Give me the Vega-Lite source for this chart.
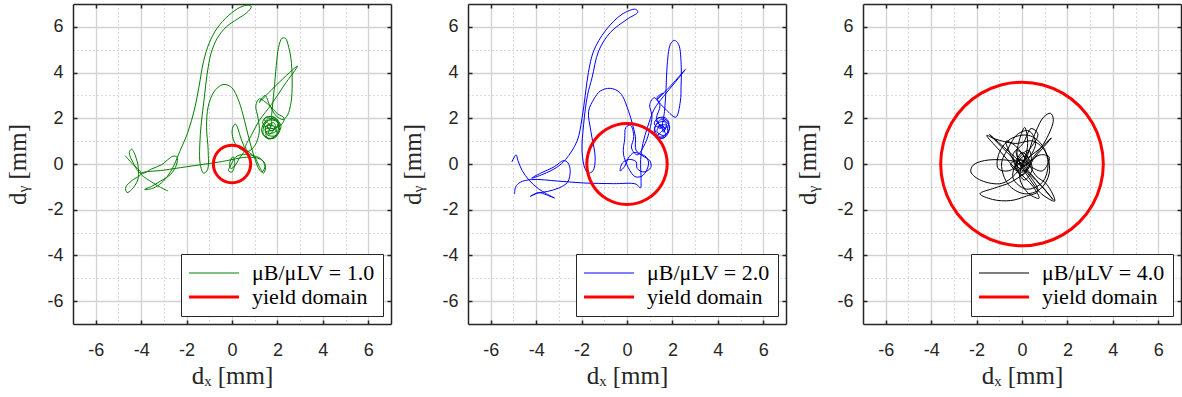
{
  "$schema": "https://vega.github.io/schema/vega-lite/v6.json",
  "padding": {"left": 5, "top": 3, "right": 0, "bottom": 0},
  "bounds": "flush",
  "spacing": 77,
  "background": "white",
  "datasets": {
    "t1": [
      {"x":-4.70,"y":0.36},{"x":-4.40,"y":0.02},{"x":-4.00,"y":-0.42},{"x":-4.40,"y":-0.72},{"x":-4.68,"y":-1.02},{"x":-4.62,"y":-1.25},{"x":-4.42,"y":-1.12},{"x":-4.15,"y":-0.70},{"x":-4.12,"y":-0.20},{"x":-4.25,"y":0.35},{"x":-4.42,"y":0.65},{"x":-4.52,"y":0.50},{"x":-4.35,"y":0.05},{"x":-4.00,"y":-0.42},{"x":-3.55,"y":-0.22},{"x":-3.10,"y":-0.03},{"x":-2.60,"y":0.34},{"x":-2.42,"y":0.30},{"x":-2.45,"y":-0.05},{"x":-2.70,"y":-0.45},{"x":-3.15,"y":-0.75},{"x":-3.55,"y":-0.98},{"x":-3.85,"y":-1.12},{"x":-3.55,"y":-1.08},{"x":-3.20,"y":-0.90},{"x":-2.85,"y":-0.55},{"x":-2.55,"y":-0.05},{"x":-2.30,"y":0.55},{"x":-1.94,"y":1.40},{"x":-1.65,"y":2.40},{"x":-1.45,"y":3.40},{"x":-1.25,"y":4.50},{"x":-1.00,"y":5.30},{"x":-0.65,"y":5.95},{"x":-0.15,"y":6.50},{"x":0.35,"y":6.85},{"x":0.72,"y":6.95},{"x":0.85,"y":6.88},{"x":0.65,"y":6.62},{"x":0.25,"y":6.35},{"x":-0.25,"y":6.00},{"x":-0.65,"y":5.50},{"x":-0.92,"y":4.85},{"x":-1.10,"y":3.90},{"x":-1.22,"y":2.90},{"x":-1.35,"y":1.80},{"x":-1.42,"y":0.80},{"x":-1.40,"y":0.00},{"x":-1.25,"y":-0.40},{"x":-1.08,"y":-0.25},{"x":-1.05,"y":0.60},{"x":-1.12,"y":1.60},{"x":-1.05,"y":2.50},{"x":-0.80,"y":3.15},{"x":-0.40,"y":3.48},{"x":-0.02,"y":3.35},{"x":0.30,"y":2.75},{"x":0.55,"y":1.90},{"x":0.75,"y":1.10},{"x":0.95,"y":0.40},{"x":1.15,"y":-0.15},{"x":1.32,"y":-0.35},{"x":1.45,"y":-0.10},{"x":1.30,"y":0.20},{"x":1.00,"y":0.35},{"x":0.50,"y":0.42},{"x":0.15,"y":0.30},{"x":0.00,"y":0.05},{"x":-0.15,"y":-0.30},{"x":0.00,"y":-0.35},{"x":0.12,"y":0.02},{"x":0.05,"y":0.32},{"x":-0.10,"y":0.05},{"x":-0.05,"y":-0.20},{"x":0.15,"y":-0.05},{"x":0.30,"y":0.22},
      {"x":0.55,"y":0.60},{"x":0.40,"y":1.10},{"x":0.15,"y":1.75},{"x":0.02,"y":1.55},{"x":0.05,"y":1.10},{"x":0.30,"y":0.70},{"x":0.70,"y":0.55},{"x":1.00,"y":0.80},{"x":1.20,"y":1.40},{"x":1.15,"y":2.00},{"x":1.05,"y":2.55},{"x":1.20,"y":2.85},{"x":1.60,"y":2.60},{"x":2.00,"y":2.20},{"x":2.30,"y":2.00},{"x":2.15,"y":1.70},{"x":1.70,"y":1.55},
      {"x":1.35,"y":1.80},{"x":1.50,"y":2.05},{"x":1.90,"y":2.00},{"x":2.10,"y":1.60},{"x":1.90,"y":1.15},{"x":1.50,"y":1.15},{"x":1.30,"y":1.50},{"x":1.55,"y":1.90},{"x":1.98,"y":1.85},{"x":2.02,"y":1.40},{"x":1.70,"y":1.12},{"x":1.38,"y":1.30},{"x":1.45,"y":1.75},{"x":1.80,"y":1.98},{"x":2.15,"y":1.70},{"x":1.95,"y":1.25},{"x":1.55,"y":1.28},{"x":1.48,"y":1.62},{"x":1.85,"y":1.80},{"x":1.92,"y":1.42},{"x":1.60,"y":1.35},{"x":1.70,"y":1.65},{"x":1.42,"y":1.95},{"x":1.78,"y":2.08},{"x":2.05,"y":1.85},{"x":1.85,"y":1.50},{"x":1.50,"y":1.40},{"x":1.58,"y":1.10},{"x":1.98,"y":1.28},{"x":1.78,"y":1.70},{"x":1.35,"y":1.62},{"x":1.62,"y":2.00},{"x":2.08,"y":1.78},{"x":1.70,"y":1.45},{"x":1.55,"y":1.70},{"x":1.88,"y":1.62},{"x":1.65,"y":1.30},{"x":1.45,"y":1.52},{"x":1.70,"y":1.60},
      {"x":1.75,"y":2.20},{"x":1.85,"y":3.20},{"x":1.95,"y":4.30},{"x":2.05,"y":5.10},{"x":2.20,"y":5.50},{"x":2.35,"y":5.50},{"x":2.50,"y":5.10},{"x":2.62,"y":4.40},{"x":2.65,"y":3.50},{"x":2.60,"y":2.70},{"x":2.45,"y":2.15},{"x":2.25,"y":1.95},{"x":1.95,"y":2.10},{"x":1.65,"y":2.60},{"x":1.45,"y":3.00},{"x":1.20,"y":2.70},{"x":2.00,"y":3.50},{"x":2.88,"y":4.28},{"x":2.30,"y":3.45},{"x":1.73,"y":2.60},{"x":1.20,"y":1.90},{"x":0.85,"y":1.25},{"x":0.60,"y":0.70},{"x":1.00,"y":0.30},{"x":1.20,"y":-0.10},{"x":1.38,"y":-0.40},{"x":1.48,"y":-0.15},{"x":1.35,"y":0.15},{"x":0.80,"y":0.30},
      {"x":-0.60,"y":0.08},{"x":-2.00,"y":-0.12},{"x":-3.00,"y":-0.27},{"x":-4.00,"y":-0.42},{"x":-3.55,"y":-0.78},{"x":-3.15,"y":-1.02},{"x":-2.82,"y":-1.18}
    ],
    "t2": [
      {"x":-5.07,"y":0.09},{"x":-4.95,"y":0.32},{"x":-4.88,"y":0.40},{"x":-4.80,"y":0.15},{"x":-4.62,"y":-0.28},{"x":-4.30,"y":-0.72},{"x":-3.90,"y":-1.08},{"x":-3.55,"y":-1.30},{"x":-3.19,"y":-1.49},{"x":-3.55,"y":-1.35},{"x":-3.90,"y":-1.25},{"x":-4.26,"y":-1.42},{"x":-3.95,"y":-1.28},{"x":-3.50,"y":-1.20},{"x":-3.00,"y":-1.05},{"x":-2.62,"y":-0.80},{"x":-2.50,"y":-0.30},{"x":-2.60,"y":0.05},{"x":-2.79,"y":0.15},{"x":-3.20,"y":-0.12},{"x":-3.80,"y":-0.40},{"x":-4.20,"y":-0.62},{"x":-3.70,"y":-0.45},{"x":-3.10,"y":-0.15},{"x":-2.70,"y":0.20},{"x":-2.20,"y":1.00},{"x":-1.98,"y":2.00},{"x":-1.84,"y":3.00},{"x":-1.70,"y":4.00},{"x":-1.47,"y":4.94},{"x":-0.96,"y":5.82},{"x":-0.22,"y":6.55},{"x":0.37,"y":6.77},{"x":0.48,"y":6.65},{"x":0.00,"y":6.33},{"x":-0.74,"y":5.75},{"x":-1.25,"y":4.94},{"x":-1.54,"y":3.77},{"x":-1.74,"y":3.00},{"x":-1.91,"y":1.73},{"x":-1.98,"y":0.56},{"x":-1.85,"y":-0.20},{"x":-1.70,"y":-0.40},{"x":-1.50,"y":-0.30},{"x":-1.40,"y":0.26},{"x":-1.59,"y":1.43},{"x":-1.69,"y":2.31},{"x":-1.45,"y":2.85},{"x":-1.18,"y":3.19},{"x":-0.74,"y":3.31},{"x":-0.30,"y":3.11},{"x":0.07,"y":2.31},{"x":0.25,"y":1.70},{"x":0.37,"y":1.20},{"x":0.40,"y":0.60},{"x":0.70,"y":0.35},{"x":1.00,"y":0.15},{"x":1.05,"y":-0.15},{"x":0.75,"y":-0.35},{"x":0.45,"y":-0.20},{"x":0.40,"y":0.10},{"x":0.10,"y":0.20},{"x":-0.20,"y":0.05},{"x":-0.30,"y":-0.30},{"x":-0.10,"y":-0.10},{"x":0.05,"y":0.25},{"x":0.30,"y":0.50},{"x":0.55,"y":0.45},{"x":0.85,"y":0.30},{"x":0.95,"y":0.00},{"x":0.70,"y":-0.50},{"x":0.35,"y":-0.55},{"x":-0.15,"y":0.40},{"x":-0.10,"y":1.10},{"x":-0.05,"y":1.60},{"x":0.15,"y":1.70},{"x":0.30,"y":1.20},{"x":0.20,"y":0.70},{"x":0.45,"y":0.40},{"x":0.80,"y":0.90},{"x":1.00,"y":1.50},{"x":1.10,"y":2.10},{"x":1.00,"y":2.60},{"x":1.20,"y":2.90},{"x":1.45,"y":2.55},{"x":1.30,"y":2.00},{"x":1.50,"y":1.55},
      {"x":1.20,"y":1.75},{"x":1.38,"y":2.02},{"x":1.75,"y":1.90},{"x":1.85,"y":1.45},{"x":1.58,"y":1.12},{"x":1.22,"y":1.30},{"x":1.30,"y":1.75},{"x":1.65,"y":1.85},{"x":1.78,"y":1.35},{"x":1.45,"y":1.18},{"x":1.22,"y":1.55},{"x":1.52,"y":1.95},{"x":1.88,"y":1.62},{"x":1.62,"y":1.25},{"x":1.32,"y":1.42},{"x":1.50,"y":1.72},{"x":1.70,"y":1.52},{"x":1.28,"y":1.92},{"x":1.62,"y":2.05},{"x":1.85,"y":1.78},{"x":1.48,"y":1.38},{"x":1.28,"y":1.15},{"x":1.70,"y":1.20},{"x":1.55,"y":1.58},{"x":1.35,"y":1.65},{"x":1.72,"y":1.70},{"x":1.60,"y":1.40},{"x":1.55,"y":1.55},
      {"x":1.65,"y":2.30},{"x":1.72,"y":3.30},{"x":1.76,"y":4.21},{"x":1.91,"y":5.24},{"x":2.08,"y":5.41},{"x":2.27,"y":5.24},{"x":2.39,"y":4.21},{"x":2.38,"y":3.40},{"x":2.35,"y":2.75},{"x":2.15,"y":2.05},{"x":1.80,"y":2.30},{"x":1.32,"y":2.90},{"x":1.60,"y":3.10},{"x":1.30,"y":2.80},{"x":1.95,"y":3.45},{"x":2.57,"y":4.14},{"x":2.10,"y":3.55},{"x":1.60,"y":2.95},{"x":1.20,"y":2.40},{"x":0.90,"y":1.60},{"x":0.70,"y":0.90},{"x":0.60,"y":0.20},{"x":0.62,"y":-0.70},{"x":0.59,"y":-1.05},
      {"x":0.40,"y":-0.88},{"x":-0.60,"y":-0.86},{"x":-1.90,"y":-0.83},{"x":-3.00,"y":-0.75},{"x":-4.20,"y":-0.68},{"x":-4.70,"y":-0.80},{"x":-4.90,"y":-1.00},{"x":-4.95,"y":-1.32}
    ],
    "t3": [
      {"x":0.00,"y":0.00},{"x":0.20,"y":0.30},{"x":0.60,"y":1.40},{"x":0.95,"y":2.05},{"x":1.25,"y":2.22},{"x":1.38,"y":1.95},{"x":1.05,"y":1.05},{"x":0.50,"y":0.30},{"x":0.10,"y":-0.10},{"x":-0.30,"y":0.10},{"x":-0.80,"y":0.18},{"x":-1.65,"y":0.15},{"x":-2.15,"y":-0.05},{"x":-2.25,"y":-0.35},{"x":-1.80,"y":-0.72},{"x":-0.90,"y":-0.85},{"x":-0.30,"y":-0.45},{"x":0.10,"y":0.20},{"x":0.25,"y":0.90},{"x":0.12,"y":1.60},{"x":-0.10,"y":1.10},{"x":-0.20,"y":0.30},{"x":0.30,"y":-0.40},{"x":0.90,"y":-1.00},{"x":1.37,"y":-1.56},{"x":0.80,"y":-0.90},{"x":0.00,"y":0.00},{"x":-0.70,"y":0.65},{"x":-1.43,"y":1.29},{"x":-0.90,"y":0.75},{"x":-0.20,"y":0.05},{"x":0.40,"y":-0.60},{"x":0.70,"y":-1.20},{"x":0.20,"y":-1.40},{"x":-0.50,"y":-1.60},{"x":-1.30,"y":-1.55},{"x":-1.85,"y":-1.30},{"x":-1.20,"y":-1.05},{"x":-0.50,"y":-0.80},{"x":0.20,"y":-0.30},{"x":0.50,"y":0.20},{"x":1.29,"y":1.14},{"x":0.70,"y":0.60},{"x":0.00,"y":0.10},{"x":-0.60,"y":-0.30},{"x":-1.05,"y":-0.20},{"x":-1.00,"y":0.50},{"x":-0.50,"y":1.10},{"x":0.30,"y":1.25},{"x":0.90,"y":0.80},{"x":1.15,"y":0.00},{"x":0.90,"y":-0.80},{"x":0.20,"y":-1.10},{"x":-0.40,"y":-0.60},{"x":-0.10,"y":0.30},{"x":0.30,"y":0.60},{"x":0.40,"y":0.10},{"x":0.00,"y":-0.50},{"x":-0.30,"y":-0.10},{"x":0.15,"y":0.35},{"x":0.45,"y":-0.20},{"x":0.10,"y":-0.70},{"x":-0.45,"y":0.30},{"x":-0.70,"y":1.00},{"x":-0.30,"y":0.80},{"x":0.25,"y":0.10},{"x":0.60,"y":-0.50},{"x":1.10,"y":-0.90},{"x":1.44,"y":-1.62},{"x":0.85,"y":-1.30},{"x":0.30,"y":-0.60},{"x":-0.15,"y":0.15},{"x":-0.25,"y":0.60},{"x":0.05,"y":0.40},{"x":0.20,"y":-0.25},{"x":-0.10,"y":-0.35},{"x":-0.20,"y":0.10},{"x":0.10,"y":0.15},{"x":0.05,"y":-0.10},{"x":0.80,"y":0.40},{"x":1.20,"y":0.30},{"x":0.90,"y":-0.30},{"x":0.35,"y":-0.10},{"x":-0.10,"y":0.20},{"x":-0.50,"y":0.00},{"x":-0.20,"y":-0.30},{"x":0.15,"y":0.05},
      {"x":0.60,"y":0.90},{"x":0.30,"y":1.45},{"x":-0.20,"y":1.30},{"x":-0.60,"y":0.70},{"x":-0.90,"y":0.00},{"x":-0.60,"y":-0.90},{"x":0.10,"y":-1.30},{"x":0.80,"y":-1.10},{"x":1.20,"y":-0.40},{"x":1.05,"y":0.50},{"x":0.50,"y":1.00},{"x":-0.30,"y":0.90},{"x":-1.20,"y":1.10},{"x":-1.55,"y":1.25},{"x":-1.00,"y":0.60},{"x":-0.30,"y":-0.20},{"x":0.50,"y":-1.00},{"x":0.75,"y":-1.50},{"x":0.30,"y":-1.30},{"x":-0.10,"y":-0.60},{"x":0.20,"y":0.40},{"x":0.70,"y":1.30},{"x":0.40,"y":1.55},{"x":0.05,"y":0.90},{"x":-0.40,"y":0.40},{"x":-0.10,"y":-0.20},{"x":0.30,"y":0.20},{"x":0.00,"y":0.50},{"x":-0.25,"y":0.00},{"x":0.10,"y":-0.30},{"x":0.35,"y":0.05}
    ],
    "c1": [
      {"x":0.82,"y":0},{"x":0.792,"y":0.212},{"x":0.71,"y":0.41},{"x":0.58,"y":0.58},{"x":0.41,"y":0.71},{"x":0.212,"y":0.792},{"x":0,"y":0.82},{"x":-0.212,"y":0.792},{"x":-0.41,"y":0.71},{"x":-0.58,"y":0.58},{"x":-0.71,"y":0.41},{"x":-0.792,"y":0.212},{"x":-0.82,"y":0},{"x":-0.792,"y":-0.212},{"x":-0.71,"y":-0.41},{"x":-0.58,"y":-0.58},{"x":-0.41,"y":-0.71},{"x":-0.212,"y":-0.792},{"x":0,"y":-0.82},{"x":0.212,"y":-0.792},{"x":0.41,"y":-0.71},{"x":0.58,"y":-0.58},{"x":0.71,"y":-0.41},{"x":0.792,"y":-0.212}
    ],
    "c2": [
      {"x":1.77,"y":0},{"x":1.71,"y":0.458},{"x":1.533,"y":0.885},{"x":1.252,"y":1.252},{"x":0.885,"y":1.533},{"x":0.458,"y":1.71},{"x":0,"y":1.77},{"x":-0.458,"y":1.71},{"x":-0.885,"y":1.533},{"x":-1.252,"y":1.252},{"x":-1.533,"y":0.885},{"x":-1.71,"y":0.458},{"x":-1.77,"y":0},{"x":-1.71,"y":-0.458},{"x":-1.533,"y":-0.885},{"x":-1.252,"y":-1.252},{"x":-0.885,"y":-1.533},{"x":-0.458,"y":-1.71},{"x":0,"y":-1.77},{"x":0.458,"y":-1.71},{"x":0.885,"y":-1.533},{"x":1.252,"y":-1.252},{"x":1.533,"y":-0.885},{"x":1.71,"y":-0.458}
    ],
    "c3": [
      {"x":3.58,"y":0},{"x":3.458,"y":0.927},{"x":3.1,"y":1.79},{"x":2.531,"y":2.531},{"x":1.79,"y":3.1},{"x":0.927,"y":3.458},{"x":0,"y":3.58},{"x":-0.927,"y":3.458},{"x":-1.79,"y":3.1},{"x":-2.531,"y":2.531},{"x":-3.1,"y":1.79},{"x":-3.458,"y":0.927},{"x":-3.58,"y":0},{"x":-3.458,"y":-0.927},{"x":-3.1,"y":-1.79},{"x":-2.531,"y":-2.531},{"x":-1.79,"y":-3.1},{"x":-0.927,"y":-3.458},{"x":0,"y":-3.58},{"x":0.927,"y":-3.458},{"x":1.79,"y":-3.1},{"x":2.531,"y":-2.531},{"x":3.1,"y":-1.79},{"x":3.458,"y":-0.927}
    ]
  },
  "hconcat": [
    {
      "width": 318, "height": 320,
      "layer": [
        {
          "data": {"name": "t1"},
          "mark": {"type": "line", "strokeWidth": 1, "interpolate": "catmull-rom"},
          "encoding": {
            "x": {"field": "x", "type": "quantitative", "scale": {"domain": [-7, 7], "nice": false, "zero": false},
              "axis": {"title": "dₓ [mm]", "values": [-6,-5,-4,-3,-2,-1,0,1,2,3,4,5,6], "labelExpr": "abs(datum.value) % 2 === 0 ? '' + datum.value : ''", "labelOverlap": false, "labelFlush": false, "labelPadding": 21, "titlePadding": 4,
                "grid": true, "gridDash": {"condition": {"test": "abs(datum.value) % 2 === 1", "value": [1, 3]}, "value": []}, "gridColor": {"condition": {"test": "abs(datum.value) % 2 === 1", "value": "#b4b4b4"}, "value": "#d2d2d2"}, "gridWidth": {"condition": {"test": "abs(datum.value) % 2 === 1", "value": 1}, "value": 1.3}, "tickOpacity": {"condition": {"test": "abs(datum.value) % 2 === 1", "value": 0}, "value": 1}}},
            "y": {"field": "y", "type": "quantitative", "scale": {"domain": [-7, 7], "nice": false, "zero": false},
              "axis": {"title": "dᵧ [mm]", "values": [-6,-5,-4,-3,-2,-1,0,1,2,3,4,5,6], "labelExpr": "abs(datum.value) % 2 === 0 ? '' + datum.value : ''", "labelOverlap": false, "labelFlush": false, "labelPadding": 14, "titlePadding": 16,
                "grid": true, "gridDash": {"condition": {"test": "abs(datum.value) % 2 === 1", "value": [1, 3]}, "value": []}, "gridColor": {"condition": {"test": "abs(datum.value) % 2 === 1", "value": "#b4b4b4"}, "value": "#d2d2d2"}, "gridWidth": {"condition": {"test": "abs(datum.value) % 2 === 1", "value": 1}, "value": 1.3}, "tickOpacity": {"condition": {"test": "abs(datum.value) % 2 === 1", "value": 0}, "value": 1}}},
            "order": {"value": null},
            "color": {"datum": "μB/μLV = 1.0", "type": "nominal", "scale": {"domain": ["μB/μLV = 1.0", "yield domain"], "range": ["#008000", "#ff0000"]},
              "legend": {"orient": "bottom-right", "offset": 8, "title": null, "symbolType": "stroke", "symbolSize": 2500, "symbolOffset": 14, "rowPadding": 2, "padding": 8, "fillColor": "#ffffff", "strokeColor": "#262626", "labelFont": "Liberation Serif", "labelFontSize": 22, "labelColor": "#000000", "labelOffset": 27, "labelLimit": 0,
                "encode": {"symbols": {"update": {"strokeWidth": {"signal": "datum.value === 'yield domain' ? 3 : 1"}}}}}}
          }
        },
        {
          "data": {"name": "c1"},
          "mark": {"type": "line", "strokeWidth": 3, "interpolate": "cardinal-closed"},
          "encoding": {
            "x": {"field": "x", "type": "quantitative", "axis": {"orient": "top", "labels": false, "title": null, "grid": false, "values": [-6,-4,-2,0,2,4,6]}},
            "y": {"field": "y", "type": "quantitative", "axis": {"orient": "right", "labels": false, "title": null, "grid": false, "values": [-6,-4,-2,0,2,4,6]}},
            "order": {"value": null},
            "color": {"datum": "yield domain", "type": "nominal"}
          }
        }
      ],
      "resolve": {"axis": {"x": "independent", "y": "independent"}}
    },
    {
      "width": 318, "height": 320,
      "layer": [
        {
          "data": {"name": "t2"},
          "mark": {"type": "line", "strokeWidth": 1, "interpolate": "catmull-rom"},
          "encoding": {
            "x": {"field": "x", "type": "quantitative", "scale": {"domain": [-7, 7], "nice": false, "zero": false},
              "axis": {"title": "dₓ [mm]", "values": [-6,-5,-4,-3,-2,-1,0,1,2,3,4,5,6], "labelExpr": "abs(datum.value) % 2 === 0 ? '' + datum.value : ''", "labelOverlap": false, "labelFlush": false, "labelPadding": 21, "titlePadding": 4,
                "grid": true, "gridDash": {"condition": {"test": "abs(datum.value) % 2 === 1", "value": [1, 3]}, "value": []}, "gridColor": {"condition": {"test": "abs(datum.value) % 2 === 1", "value": "#b4b4b4"}, "value": "#d2d2d2"}, "gridWidth": {"condition": {"test": "abs(datum.value) % 2 === 1", "value": 1}, "value": 1.3}, "tickOpacity": {"condition": {"test": "abs(datum.value) % 2 === 1", "value": 0}, "value": 1}}},
            "y": {"field": "y", "type": "quantitative", "scale": {"domain": [-7, 7], "nice": false, "zero": false},
              "axis": {"title": "dᵧ [mm]", "values": [-6,-5,-4,-3,-2,-1,0,1,2,3,4,5,6], "labelExpr": "abs(datum.value) % 2 === 0 ? '' + datum.value : ''", "labelOverlap": false, "labelFlush": false, "labelPadding": 14, "titlePadding": 16,
                "grid": true, "gridDash": {"condition": {"test": "abs(datum.value) % 2 === 1", "value": [1, 3]}, "value": []}, "gridColor": {"condition": {"test": "abs(datum.value) % 2 === 1", "value": "#b4b4b4"}, "value": "#d2d2d2"}, "gridWidth": {"condition": {"test": "abs(datum.value) % 2 === 1", "value": 1}, "value": 1.3}, "tickOpacity": {"condition": {"test": "abs(datum.value) % 2 === 1", "value": 0}, "value": 1}}},
            "order": {"value": null},
            "color": {"datum": "μB/μLV = 2.0", "type": "nominal", "scale": {"domain": ["μB/μLV = 2.0", "yield domain"], "range": ["#0000ff", "#ff0000"]},
              "legend": {"orient": "bottom-right", "offset": 8, "title": null, "symbolType": "stroke", "symbolSize": 2500, "symbolOffset": 14, "rowPadding": 2, "padding": 8, "fillColor": "#ffffff", "strokeColor": "#262626", "labelFont": "Liberation Serif", "labelFontSize": 22, "labelColor": "#000000", "labelOffset": 27, "labelLimit": 0,
                "encode": {"symbols": {"update": {"strokeWidth": {"signal": "datum.value === 'yield domain' ? 3 : 1"}}}}}}
          }
        },
        {
          "data": {"name": "c2"},
          "mark": {"type": "line", "strokeWidth": 3, "interpolate": "cardinal-closed"},
          "encoding": {
            "x": {"field": "x", "type": "quantitative", "axis": {"orient": "top", "labels": false, "title": null, "grid": false, "values": [-6,-4,-2,0,2,4,6]}},
            "y": {"field": "y", "type": "quantitative", "axis": {"orient": "right", "labels": false, "title": null, "grid": false, "values": [-6,-4,-2,0,2,4,6]}},
            "order": {"value": null},
            "color": {"datum": "yield domain", "type": "nominal"}
          }
        }
      ],
      "resolve": {"axis": {"x": "independent", "y": "independent"}}
    },
    {
      "width": 318, "height": 320,
      "layer": [
        {
          "data": {"name": "t3"},
          "mark": {"type": "line", "strokeWidth": 1, "interpolate": "catmull-rom"},
          "encoding": {
            "x": {"field": "x", "type": "quantitative", "scale": {"domain": [-7, 7], "nice": false, "zero": false},
              "axis": {"title": "dₓ [mm]", "values": [-6,-5,-4,-3,-2,-1,0,1,2,3,4,5,6], "labelExpr": "abs(datum.value) % 2 === 0 ? '' + datum.value : ''", "labelOverlap": false, "labelFlush": false, "labelPadding": 21, "titlePadding": 4,
                "grid": true, "gridDash": {"condition": {"test": "abs(datum.value) % 2 === 1", "value": [1, 3]}, "value": []}, "gridColor": {"condition": {"test": "abs(datum.value) % 2 === 1", "value": "#b4b4b4"}, "value": "#d2d2d2"}, "gridWidth": {"condition": {"test": "abs(datum.value) % 2 === 1", "value": 1}, "value": 1.3}, "tickOpacity": {"condition": {"test": "abs(datum.value) % 2 === 1", "value": 0}, "value": 1}}},
            "y": {"field": "y", "type": "quantitative", "scale": {"domain": [-7, 7], "nice": false, "zero": false},
              "axis": {"title": "dᵧ [mm]", "values": [-6,-5,-4,-3,-2,-1,0,1,2,3,4,5,6], "labelExpr": "abs(datum.value) % 2 === 0 ? '' + datum.value : ''", "labelOverlap": false, "labelFlush": false, "labelPadding": 14, "titlePadding": 16,
                "grid": true, "gridDash": {"condition": {"test": "abs(datum.value) % 2 === 1", "value": [1, 3]}, "value": []}, "gridColor": {"condition": {"test": "abs(datum.value) % 2 === 1", "value": "#b4b4b4"}, "value": "#d2d2d2"}, "gridWidth": {"condition": {"test": "abs(datum.value) % 2 === 1", "value": 1}, "value": 1.3}, "tickOpacity": {"condition": {"test": "abs(datum.value) % 2 === 1", "value": 0}, "value": 1}}},
            "order": {"value": null},
            "color": {"datum": "μB/μLV = 4.0", "type": "nominal", "scale": {"domain": ["μB/μLV = 4.0", "yield domain"], "range": ["#000000", "#ff0000"]},
              "legend": {"orient": "bottom-right", "offset": 8, "title": null, "symbolType": "stroke", "symbolSize": 2500, "symbolOffset": 14, "rowPadding": 2, "padding": 8, "fillColor": "#ffffff", "strokeColor": "#262626", "labelFont": "Liberation Serif", "labelFontSize": 22, "labelColor": "#000000", "labelOffset": 27, "labelLimit": 0,
                "encode": {"symbols": {"update": {"strokeWidth": {"signal": "datum.value === 'yield domain' ? 3 : 1"}}}}}}
          }
        },
        {
          "data": {"name": "c3"},
          "mark": {"type": "line", "strokeWidth": 3, "interpolate": "cardinal-closed"},
          "encoding": {
            "x": {"field": "x", "type": "quantitative", "axis": {"orient": "top", "labels": false, "title": null, "grid": false, "values": [-6,-4,-2,0,2,4,6]}},
            "y": {"field": "y", "type": "quantitative", "axis": {"orient": "right", "labels": false, "title": null, "grid": false, "values": [-6,-4,-2,0,2,4,6]}},
            "order": {"value": null},
            "color": {"datum": "yield domain", "type": "nominal"}
          }
        }
      ],
      "resolve": {"axis": {"x": "independent", "y": "independent"}}
    }
  ],
  "resolve": {"scale": {"color": "independent"}, "legend": {"color": "independent"}},
  "config": {
    "view": {"stroke": null},
    "axis": {"labelFont": "Liberation Sans", "labelFontSize": 18, "labelColor": "#262626", "titleFont": "Liberation Serif", "titleFontSize": 25, "titleFontWeight": "normal", "titleColor": "#262626", "domainColor": "#262626", "domainWidth": 1.5, "tickColor": "#262626", "tickWidth": 1.5, "tickSize": -4}
  }
}
